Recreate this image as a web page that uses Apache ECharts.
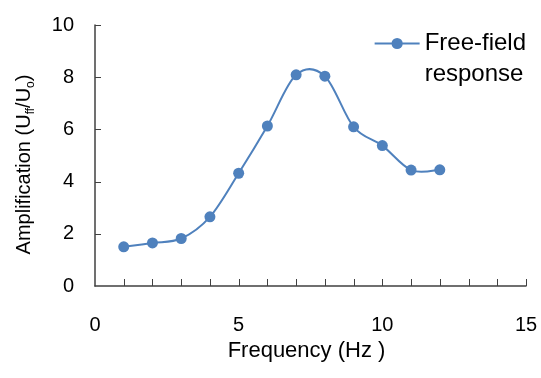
<!DOCTYPE html>
<html>
<head>
<meta charset="utf-8">
<script src="https://cdn.jsdelivr.net/npm/echarts@6/dist/echarts.min.js"></script>
<style>
  html, body { margin: 0; padding: 0; background: #fff; }
  #chart { width: 541px; height: 378px; }
</style>
</head>
<body>
<div id="chart"></div>
<script>
// Measured free-field amplification at each excitation frequency
const frequencies = [1, 2, 3, 4, 5, 6, 7, 8, 9, 10, 11, 12];
const amplification = [1.50, 1.65, 1.82, 2.65, 4.32, 6.13, 8.09, 8.04, 6.10, 5.38, 4.44, 4.45];
const seriesName = 'Free-field response';

// Tick positions: minor ticks every 1 Hz along x, every 2 units along y
const xTicks = [1, 2, 3, 4, 5, 6, 7, 8, 9, 10, 11, 12, 13, 14, 15];
const yTicks = [2, 4, 6, 8, 10];

const blue = '#4F81BD';
const axisColor = '#404040';
const font = 'Arial, "Liberation Sans", sans-serif';

const points = frequencies.map((f, i) => [f, amplification[i]]);

// Smooth curve through the measured points (Catmull-Rom converted to cubic Beziers),
// positioned with the chart's own coordinate system.
function renderCurve(params, api) {
  if (params.dataIndex !== 0) return null;
  const px = points.map(p => api.coord(p));
  const n = px.length;
  let d = 'M' + px[0][0] + ',' + px[0][1];
  for (let i = 0; i < n - 1; i++) {
    const p0 = px[Math.max(i - 1, 0)];
    const p1 = px[i];
    const p2 = px[i + 1];
    const p3 = px[Math.min(i + 2, n - 1)];
    const c1 = [p1[0] + (p2[0] - p0[0]) / 6, p1[1] + (p2[1] - p0[1]) / 6];
    const c2 = [p2[0] - (p3[0] - p1[0]) / 6, p2[1] - (p3[1] - p1[1]) / 6];
    d += 'C' + c1[0] + ',' + c1[1] + ' ' + c2[0] + ',' + c2[1] + ' ' + p2[0] + ',' + p2[1];
  }
  return {
    type: 'path',
    shape: { pathData: d },
    style: { fill: 'none', stroke: blue, lineWidth: 2 }
  };
}

// Inward-pointing tick marks on the x axis
function renderXTick(params, api) {
  const p = api.coord([api.value(0), 0]);
  const x = Math.round(p[0]) + 0.5;
  return {
    type: 'line',
    shape: { x1: x, y1: p[1], x2: x, y2: p[1] - 7 },
    style: { stroke: axisColor, lineWidth: 1 }
  };
}

// Inward-pointing tick marks on the y axis
function renderYTick(params, api) {
  const p = api.coord([0, api.value(0)]);
  const y = Math.round(p[1]) + 0.5;
  return {
    type: 'line',
    shape: { x1: p[0], y1: y, x2: p[0] + 6, y2: y },
    style: { stroke: axisColor, lineWidth: 1 }
  };
}

const chart = echarts.init(document.getElementById('chart'));
chart.setOption({
  animation: false,
  backgroundColor: '#fff',
  grid: { left: 95, right: 15, top: 25, bottom: 92, containLabel: false },
  legend: {
    data: [seriesName],
    right: 10,
    top: -8,
    itemWidth: 45,
    itemHeight: 14,
    formatter: () => ' \nFree-field\nresponse',
    lineStyle: { color: blue, width: 2, opacity: 1 },
    textStyle: { fontFamily: font, fontSize: 24, color: '#000', lineHeight: 31 }
  },
  xAxis: {
    type: 'value',
    min: 0, max: 15, interval: 5,
    name: 'Frequency (Hz )',
    nameLocation: 'middle',
    nameGap: 51,
    nameTextStyle: { fontFamily: font, fontSize: 22, color: '#000', padding: [0, 8, 0, 0] },
    axisLine: { show: true, lineStyle: { color: axisColor, width: 1.5 } },
    axisTick: { show: false },
    splitLine: { show: false },
    axisLabel: { fontFamily: font, fontSize: 20, color: '#000', margin: 29 }
  },
  yAxis: {
    type: 'value',
    min: 0, max: 10, interval: 2,
    name: 'Amplification ({m|U}{s|ff}{m|/U}{s|o}{m|)}',
    nameLocation: 'middle',
    nameRotate: 90,
    nameGap: 58,
    nameTextStyle: {
      fontFamily: font, fontSize: 20, color: '#000', lineHeight: 26,
      padding: [0, 18, 0, 0],
      rich: {
        m: { fontFamily: font, fontSize: 20, color: '#000', lineHeight: 26 },
        s: { fontFamily: font, fontSize: 12, color: '#000', lineHeight: 12, verticalAlign: 'bottom' }
      }
    },
    axisLine: { show: true, lineStyle: { color: axisColor, width: 1.5 } },
    axisTick: { show: false },
    splitLine: { show: false },
    axisLabel: { fontFamily: font, fontSize: 20, color: '#000', margin: 21 }
  },
  series: [
    {
      type: 'custom',
      renderItem: renderXTick,
      data: xTicks.map(v => [v]),
      clip: false,
      silent: true,
      z: 3
    },
    {
      type: 'custom',
      renderItem: renderYTick,
      data: yTicks.map(v => [v]),
      clip: false,
      silent: true,
      z: 3
    },
    {
      type: 'custom',
      renderItem: renderCurve,
      data: points,
      z: 1,
      silent: true
    },
    {
      name: seriesName,
      type: 'line',
      data: points,
      symbol: 'circle',
      symbolSize: 11,
      itemStyle: { color: blue },
      lineStyle: { color: blue, width: 2, opacity: 0 },
      z: 2
    }
  ]
});
</script>
</body>
</html>
